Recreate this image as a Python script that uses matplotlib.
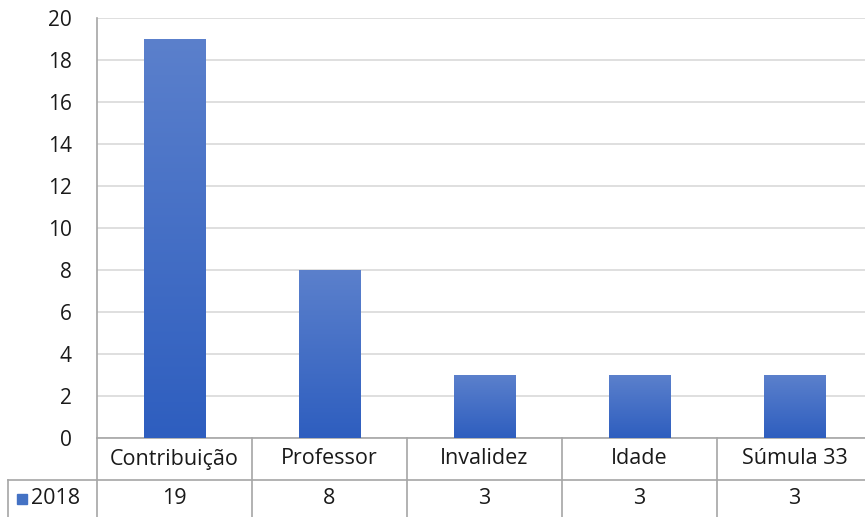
import numpy as np
import matplotlib.pyplot as plt
from matplotlib.colors import LinearSegmentedColormap
from matplotlib.transforms import blended_transform_factory
from matplotlib.lines import Line2D
from matplotlib.patches import Rectangle

# Aposentadorias por tipo, 2018
CATEGORIES = ["Contribuição", "Professor", "Invalidez", "Idade", "Súmula 33"]
VALUES = [19, 8, 3, 3, 3]
SERIES = "2018"
YTICKS = [0, 2, 4, 6, 8, 10, 12, 14, 16, 18, 20]

TEXT = "#1a1a1a"
GRID = "#d9d9d9"
RULE = "#a6a6a6"
TOP_BLUE = "#5b80cc"
BOT_BLUE = "#2e5ebf"
FS_TICK = 15
FS_TABLE = 15.5

plt.rcParams["font.family"] = ["Open Sans", "DejaVu Sans"]

W, H = 865, 517
fig = plt.figure(figsize=(W / 100, H / 100), dpi=100)
# plot area in pixel terms: left 97, baseline at y=438, top at y=18
ax = fig.add_axes([97 / W, (H - 438) / H, (W - 97) / W, 420 / H])

col_w = 155.0  # px per category
x = np.arange(len(CATEGORIES))
x_right = (W - 97) / col_w - 0.5

bars = ax.bar(x, VALUES, width=0.4, color=BOT_BLUE, zorder=2)

# vertical gradient fill on each bar
cmap = LinearSegmentedColormap.from_list("bluegrad", [BOT_BLUE, TOP_BLUE])
grad = np.linspace(0, 1, 256).reshape(-1, 1)
for b in bars:
    x0, y0 = b.get_x(), b.get_y()
    ax.imshow(grad, cmap=cmap, origin="lower", aspect="auto", zorder=3,
              extent=(x0, x0 + b.get_width(), y0, y0 + b.get_height()))
ax.set_xlim(-0.5, x_right)
ax.set_ylim(0, 20)

ax.set_yticks(YTICKS)
ax.yaxis.grid(True, color=GRID, linewidth=1.2, zorder=0)
ax.set_axisbelow(True)
ax.tick_params(axis="y", length=0, pad=18, labelsize=FS_TICK, labelcolor=TEXT)
ax.set_xticks([])
for s in ["top", "right"]:
    ax.spines[s].set_visible(False)
for s in ["left", "bottom"]:
    ax.spines[s].set_color(RULE)
    ax.spines[s].set_linewidth(1.2)

# data table under the axis
tr = blended_transform_factory(ax.transData, ax.transAxes)
row_h = 42 / 420
lw = 1.2
left_edge = (8 - 97) / col_w - 0.5

ax.add_line(Line2D([left_edge, x_right], [-row_h, -row_h], transform=tr,
                   color=RULE, lw=lw, clip_on=False))
for k in range(len(CATEGORIES) + 1):
    ax.add_line(Line2D([k - 0.5, k - 0.5], [0, -0.3], transform=tr,
                       color=RULE, lw=lw, clip_on=False))
ax.add_line(Line2D([left_edge, left_edge], [-row_h, -0.3], transform=tr,
                   color=RULE, lw=lw, clip_on=False))

for xi, cat, val in zip(x, CATEGORIES, VALUES):
    ax.text(xi, -row_h / 2, cat, transform=tr, ha="center", va="center",
            fontsize=FS_TABLE, color=TEXT)
    ax.text(xi, -row_h * 1.45, str(val), transform=tr, ha="center",
            va="center", fontsize=FS_TABLE, color=TEXT)

# legend key in the series cell
key_w = 10 / col_w
ax.add_patch(Rectangle((left_edge + 9 / col_w, -row_h * 1.45 - 5 / 420),
                       key_w, 10 / 420, transform=tr, color="#4472c4",
                       clip_on=False))
ax.text(left_edge + 23 / col_w, -row_h * 1.45, SERIES, transform=tr,
        ha="left", va="center", fontsize=FS_TABLE, color=TEXT)

fig.savefig("out.png", dpi=100)
